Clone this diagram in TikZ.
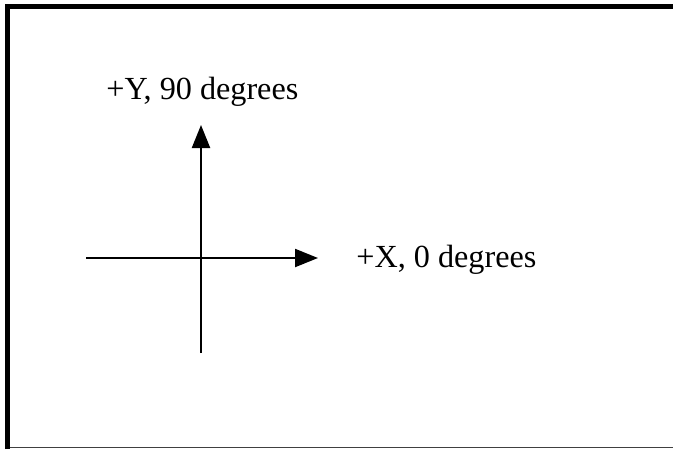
\documentclass[tikz,border=0pt]{standalone}
\usepackage{fontspec}
\setmainfont{Liberation Serif}
\usetikzlibrary{arrows.meta}

\begin{document}
\begin{tikzpicture}[
    x=0.5pt, y=-0.5pt,
    % Axis styles
    axisline/.style={
        draw=black,
        line width=1.1pt,
        -{Triangle[length=11.5pt, width=9pt]}
    },
    axislabel/.style={
        anchor=base west,
        inner sep=0pt,
        font=\fontsize{16.1}{18}\selectfont
    },
    framethick/.style={
        draw=black,
        line width=2.5pt
    },
    framethin/.style={
        draw=black!75,
        line width=0.8pt
    }
]

    % =========================================================================
    % 1. CANVAS AND FRAME
    % =========================================================================
    \useasboundingbox (0,0) rectangle (673,449);
    \draw[framethin] (10,447.5) -- (673,447.5);
    \draw[framethick] (7.5,449) -- (7.5,7) -- (673,7);

    % =========================================================================
    % 2. AXES
    % =========================================================================
    \coordinate (origin) at (201,258);
    \coordinate (x_start) at (86,258);
    \coordinate (x_end) at (318,258);
    \coordinate (y_start) at (201,353);
    \coordinate (y_end) at (201,125);

    \draw[axisline] (x_start) -- (x_end);
    \draw[axisline] (y_start) -- (y_end);

    % =========================================================================
    % 3. LABELS
    % =========================================================================
    \node[axislabel] (lbl_y) at (106,99) {+Y, 90 degrees};
    \node[axislabel] (lbl_x) at (356,267) {+X, 0 degrees};

\end{tikzpicture}
\end{document}
